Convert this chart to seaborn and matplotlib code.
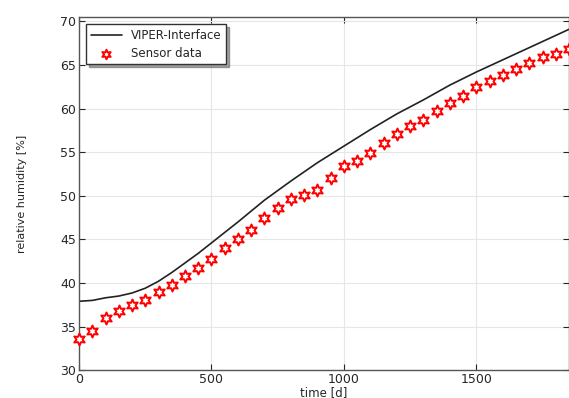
import numpy as np
import pandas as pd
import seaborn as sns
import matplotlib.pyplot as plt

# model curve (VIPER-Interface)
model_time = [0, 50, 100, 150, 200, 250, 300, 350, 400, 450, 500, 550, 600, 700,
              800, 900, 1000, 1100, 1200, 1300, 1400, 1500, 1600, 1700, 1800, 1850]
model_rh = [37.9, 38.0, 38.3, 38.5, 38.85, 39.4, 40.2, 41.2, 42.3, 43.4, 44.6, 45.8,
            47.0, 49.5, 51.7, 53.8, 55.7, 57.6, 59.4, 61.0, 62.7, 64.2, 65.6,
            67.0, 68.4, 69.1]

# measured points
sensor_time = list(range(0, 1851, 50))
sensor_rh = [33.6, 34.5, 36.0, 36.8, 37.5, 38.1, 39.0, 39.8, 40.8, 41.7,
             42.8, 44.0, 45.0, 46.1, 47.5, 48.6, 49.6, 50.1, 50.7, 52.1,
             53.4, 54.0, 54.9, 56.1, 57.1, 58.0, 58.7, 59.7, 60.7, 61.4,
             62.5, 63.2, 63.9, 64.6, 65.2, 65.9, 66.3, 66.8]

df_model = pd.DataFrame({"time": model_time, "rh": model_rh})
df_sensor = pd.DataFrame({"time": sensor_time, "rh": sensor_rh})

sns.set_style("whitegrid", {"grid.color": "#e6e6e6", "axes.edgecolor": "#555555"})
plt.rcParams["font.family"] = ["DejaVu Sans"]

fig = plt.figure(figsize=(5.69, 3.98), dpi=100)
ax = fig.add_axes([0.139, 0.07, 0.861, 0.887])

sns.lineplot(data=df_model, x="time", y="rh", color="#222222", linewidth=1.2,
             label="VIPER-Interface", ax=ax)
sns.scatterplot(data=df_sensor, x="time", y="rh", marker=(6, 1, 0), s=75,
                facecolor="white", edgecolor="red", linewidth=1.4,
                label="Sensor data", ax=ax, zorder=3, clip_on=False)

ax.set_xlim(0, 1850)
ax.set_ylim(30, 70.5)
ax.set_xticks([0, 500, 1000, 1500])
ax.set_yticks(range(30, 71, 5))
ax.tick_params(direction="in", length=4, labelsize=9, top=True, right=True,
               bottom=True, left=True, pad=2)
ax.set_xlabel("time [d]", fontsize=8.5, labelpad=0)
ax.set_ylabel("relative humidity [%]", fontsize=8, labelpad=24)
for s in ax.spines.values():
    s.set_linewidth(1.0)

leg = ax.legend(loc="upper left", fontsize=8.5, fancybox=False, shadow=True,
                framealpha=1, edgecolor="#333333", borderaxespad=0.6,
                handlelength=2.6, labelspacing=0.4, markerscale=0.8)

fig.savefig("out.png", dpi=100)
